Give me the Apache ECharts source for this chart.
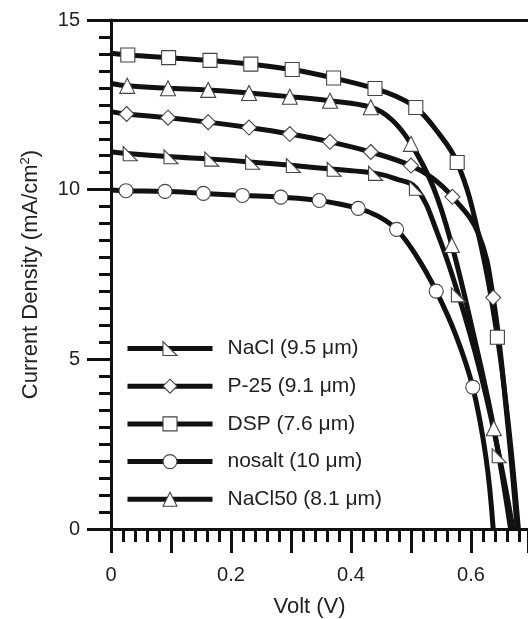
<!DOCTYPE html>
<html>
<head>
<meta charset="utf-8">
<script src="https://cdn.jsdelivr.net/npm/echarts@6/dist/echarts.min.js"></script>
<style>
    html, body { margin: 0; padding: 0; background: #fff; }
    #jvCharts { width: 528px; height: 619px; }
</style>
</head>
<body>
<div id="jvCharts"></div>
<script>
    // J-V curves, x = Volt (V), y = current density (mA/cm2)
    const seriesNames = ['NaCl (9.5 μm)', 'P-25 (9.1 μm)', 'DSP (7.6 μm)', 'nosalt (10 μm)', 'NaCl50 (8.1 μm)'];
    const xTickLabels = ['0', '0.2', '0.4', '0.6'];

    // points carrying a marker
    const naclMarks = [[0.032, 11.06], [0.100, 10.97], [0.168, 10.90], [0.236, 10.81], [0.304, 10.71], [0.372, 10.60], [0.441, 10.48], [0.509, 10.04], [0.579, 6.90], [0.647, 2.16]];
    const p25Marks = [[0.026, 12.23], [0.095, 12.12], [0.162, 11.99], [0.230, 11.83], [0.298, 11.64], [0.365, 11.41], [0.433, 11.11], [0.500, 10.71], [0.569, 9.79], [0.637, 6.82]];
    const dspMarks = [[0.028, 13.97], [0.096, 13.89], [0.165, 13.81], [0.233, 13.70], [0.302, 13.54], [0.371, 13.29], [0.440, 12.98], [0.508, 12.42], [0.577, 10.80], [0.644, 5.65]];
    const nosaltMarks = [[0.025, 9.97], [0.090, 9.95], [0.154, 9.89], [0.219, 9.83], [0.283, 9.78], [0.347, 9.68], [0.412, 9.45], [0.476, 8.83], [0.542, 7.01], [0.603, 4.18]];
    const nacl50Marks = [[0.027, 13.06], [0.095, 12.99], [0.162, 12.94], [0.230, 12.85], [0.298, 12.74], [0.365, 12.62], [0.433, 12.43], [0.500, 11.35], [0.568, 8.37], [0.638, 2.97]];

    // extra points of the curve without a marker (start, knee, end)
    const naclLine = [[0, 11.12], [0.475, 10.32], [0.544, 8.72], [0.615, 4.65], [0.670, 0]];
    const p25Line = [[0, 12.30], [0.535, 10.35], [0.612, 8.72], [0.660, 3.30], [0.677, 0]];
    const dspLine = [[0, 14.02], [0.475, 12.75], [0.540, 11.80], [0.612, 8.72], [0.664, 2.80], [0.679, 0]];
    const nosaltLine = [[0, 9.99], [0.445, 9.22], [0.510, 8.02], [0.575, 5.70], [0.625, 2.10], [0.637, 0]];
    const nacl50Line = [[0, 13.13], [0.468, 12.06], [0.537, 10.08], [0.604, 5.75], [0.666, 0]];

    const marks = [naclMarks, p25Marks, dspMarks, nosaltMarks, nacl50Marks];
    const lines = [naclLine, p25Line, dspLine, nosaltLine, nacl50Line];
    const symbols = ['path://M0,0L0,10L10,10Z', 'diamond', 'rect', 'circle', 'triangle'];
    const symbolSizes = [14, 15, 14, 14, 15];

    function buildData(markPts, linePts) {
        const all = markPts.map(p => ({value: p}))
            .concat(linePts.map(p => ({value: p, symbol: 'none'})));
        all.sort((a, b) => a.value[0] - b.value[0]);
        return all;
    }

    const series = seriesNames.map((name, i) => ({
        name: name,
        type: 'line',
        data: buildData(marks[i], lines[i]),
        smooth: 0.4,
        symbol: symbols[i],
        symbolSize: symbolSizes[i],
        showAllSymbol: true,
        lineStyle: {color: '#111', width: 5},
        itemStyle: {color: '#fff', borderColor: '#444', borderWidth: 1.1},
        emphasis: {disabled: true}
    }));

    const axisColor = '#111';
    const font = 'Liberation Sans, Arial, sans-serif';

    const option = {
        animation: false,
        grid: {left: 111, right: 0, top: 20, bottom: 90, outerBoundsMode: 'none'},
        legend: {
            orient: 'vertical',
            left: 125,
            top: 338,
            padding: 0,
            itemWidth: 85,
            itemHeight: 17.5,
            itemGap: 16.7,
            selectedMode: false,
            data: seriesNames,
            lineStyle: {color: '#111', width: 5},
            itemStyle: {color: '#fff', borderColor: '#444', borderWidth: 1.1},
            textStyle: {fontSize: 21, color: '#222', fontFamily: font, padding: [0, 0, 0, 10]}
        },
        xAxis: [
            {
                type: 'value',
                min: 0,
                max: 0.695,
                interval: 0.1,
                position: 'bottom',
                name: 'Volt (V)',
                nameLocation: 'middle',
                nameGap: 67,
                nameTextStyle: {fontSize: 22, color: '#222', fontFamily: font, padding: [0, 20, 0, 0]},
                axisLine: {lineStyle: {color: axisColor, width: 3}},
                axisTick: {length: 24, lineStyle: {color: axisColor, width: 3}},
                minorTick: {show: true, splitNumber: 5, length: 13, lineStyle: {color: axisColor, width: 3}},
                splitLine: {show: false},
                axisLabel: {
                    margin: 36,
                    fontSize: 20,
                    color: '#222',
                    fontFamily: font,
                    showMaxLabel: false,
                    formatter: v => {
                        const k = Math.round(v * 10);
                        return k % 2 === 0 ? xTickLabels[k / 2] || '' : '';
                    }
                }
            },
            {
                type: 'value',
                min: 0,
                max: 0.695,
                position: 'top',
                axisLine: {lineStyle: {color: axisColor, width: 3}},
                axisTick: {show: false},
                axisLabel: {show: false},
                splitLine: {show: false}
            }
        ],
        yAxis: {
            type: 'value',
            min: 0,
            max: 15,
            interval: 5,
            name: 'Current Density (mA/cm{sup|2})',
            nameLocation: 'middle',
            nameGap: 68,
            nameTextStyle: {
                fontSize: 22, color: '#222', fontFamily: font, lineHeight: 24,
                rich: {sup: {fontSize: 13, color: '#222', fontFamily: font, verticalAlign: 'top', lineHeight: 14}}
            },
            axisLine: {show: true, lineStyle: {color: axisColor, width: 3}},
            axisTick: {length: 24, lineStyle: {color: axisColor, width: 3}},
            minorTick: {show: true, splitNumber: 10, length: 12, lineStyle: {color: axisColor, width: 3}},
            splitLine: {show: false},
            axisLabel: {margin: 31, fontSize: 20, color: '#222', fontFamily: font}
        },
        series: series
    };

    const jvCharts = echarts.init(document.getElementById('jvCharts'));
    jvCharts.setOption(option);
    window.addEventListener('resize', () => jvCharts.resize());
</script>
</body>
</html>
